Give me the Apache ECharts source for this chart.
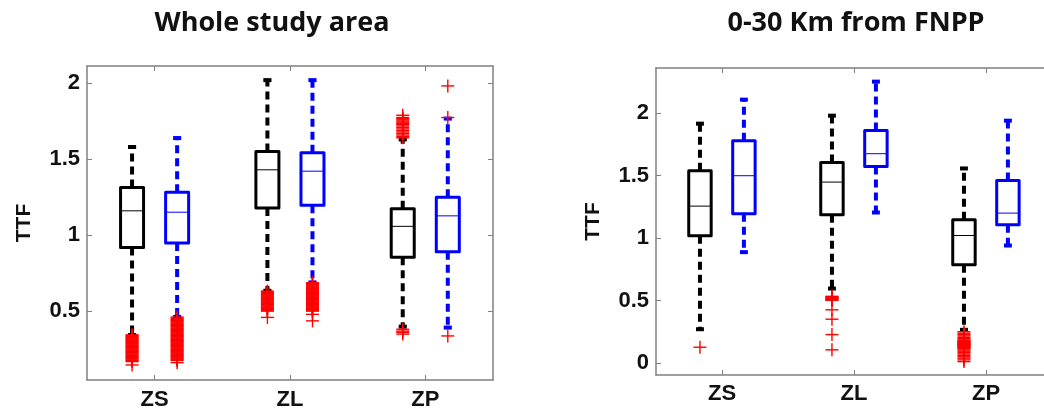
<!DOCTYPE html>
<html>
<head>
<meta charset="utf-8">
<script src="https://cdn.jsdelivr.net/npm/echarts@6/dist/echarts.min.js"></script>
<style>
  html, body { margin: 0; padding: 0; background: #fff; overflow: hidden; }
  #chart { width: 1044px; height: 410px; }
</style>
</head>
<body>
<div id="chart"></div>
<script>
// categories and tick labels
const categories = ['ZS', 'ZL', 'ZP']
const xTicks = [1, 2, 3]
const yTicksWhole = [0.5, 1, 1.5, 2]
const yTicksNear = [0, 0.5, 1, 1.5, 2]

// box stats per category: [lower whisker, Q1, median, Q3, upper whisker]
const wholeBlack = [
  [0.344, 0.919, 1.161, 1.315, 1.581],
  [0.635, 1.180, 1.431, 1.552, 2.021],
  [0.399, 0.855, 1.059, 1.174, 1.631]
]
const wholeBlue = [
  [0.463, 0.949, 1.152, 1.284, 1.640],
  [0.690, 1.198, 1.422, 1.543, 2.021],
  [0.393, 0.892, 1.128, 1.251, 1.768]
]
const nearBlack = [
  [0.272, 1.019, 1.256, 1.539, 1.915],
  [0.597, 1.187, 1.448, 1.605, 1.979],
  [0.267, 0.787, 1.021, 1.147, 1.557]
]
const nearBlue = [
  [0.888, 1.195, 1.499, 1.779, 2.107],
  [1.205, 1.573, 1.675, 1.861, 2.251],
  [0.941, 1.107, 1.200, 1.461, 1.939]
]

// outliers per category
const wholeBlackOut = [
  [0.345, 0.34, 0.334, 0.329, 0.323, 0.318, 0.312, 0.307, 0.301, 0.296, 0.29, 0.285, 0.279, 0.274, 0.268, 0.263,
   0.257, 0.252, 0.246, 0.241, 0.235, 0.23, 0.224, 0.219, 0.213, 0.208, 0.202, 0.197, 0.191, 0.186, 0.18, 0.175,
   0.169, 0.147],
  [0.633, 0.628, 0.622, 0.617, 0.611, 0.606, 0.6, 0.595, 0.589, 0.584, 0.578, 0.573, 0.567, 0.562, 0.556, 0.551,
   0.545, 0.54, 0.534, 0.529, 0.523, 0.518, 0.512, 0.507, 0.501, 0.46],
  [1.79, 1.775, 1.768, 1.76, 1.752, 1.745, 1.737, 1.73, 1.72, 1.71, 1.7, 1.69, 1.68, 1.67, 1.66, 1.65, 1.642,
   0.382, 0.37, 0.362, 0.35]
]
const wholeBlueOut = [
  [0.462, 0.456, 0.451, 0.445, 0.44, 0.434, 0.429, 0.423, 0.418, 0.412, 0.407, 0.401, 0.396, 0.39, 0.385, 0.379,
   0.374, 0.368, 0.363, 0.357, 0.352, 0.346, 0.341, 0.335, 0.33, 0.324, 0.319, 0.313, 0.308, 0.302, 0.297, 0.291,
   0.286, 0.28, 0.275, 0.269, 0.264, 0.258, 0.253, 0.247, 0.242, 0.236, 0.231, 0.225, 0.22, 0.214, 0.209, 0.203,
   0.198, 0.192, 0.187, 0.181, 0.176, 0.162],
  [0.688, 0.683, 0.677, 0.672, 0.666, 0.661, 0.655, 0.65, 0.644, 0.639, 0.633, 0.628, 0.622, 0.617, 0.611, 0.606,
   0.6, 0.595, 0.589, 0.584, 0.578, 0.573, 0.567, 0.562, 0.556, 0.551, 0.545, 0.54, 0.534, 0.529, 0.523, 0.518,
   0.512, 0.507, 0.501, 0.48, 0.437],
  [1.983, 1.775, 0.338]
]
const nearBlackOut = [
  [0.128],
  [0.535, 0.53, 0.526, 0.521, 0.517, 0.512, 0.508, 0.503, 0.427, 0.352, 0.229, 0.107],
  [0.252, 0.24, 0.229, 0.218, 0.206, 0.196, 0.186, 0.181, 0.176, 0.172, 0.167, 0.163, 0.158,
   0.154, 0.15, 0.146, 0.142, 0.138, 0.133, 0.129, 0.124, 0.12, 0.114, 0.106, 0.096, 0.085, 0.074,
   0.063, 0.052, 0.04, 0.027, 0.013]
]
const nearBlueOut = [[], [], []]

// 样式常量
const BLACK = '#000000'
const BLUE = '#0000ff'
const RED = '#ff0000'
const AXIS = '#808080'
const BLACK_OFFSET = -0.167
const BLUE_OFFSET = 0.166
const BOX_HALF = 0.085
const CAP_HALF = 0.03
const PLUS_HALF = 6.5

const chart = echarts.init(document.getElementById('chart'))

// 箱体 + 须线
const renderBox = (color) => (params, api) => {
  const x = api.value(0)
  const unit = api.size([1, 0])[0]
  const hw = unit * BOX_HALF
  const cw = unit * CAP_HALF
  const pMin = api.coord([x, api.value(1)])
  const pQ1 = api.coord([x, api.value(2)])
  const pMed = api.coord([x, api.value(3)])
  const pQ3 = api.coord([x, api.value(4)])
  const pMax = api.coord([x, api.value(5)])
  const cx = pQ1[0]
  const dash = { stroke: color, lineWidth: 4, lineDash: [8, 5] }
  const cap = { stroke: color, lineWidth: 4 }
  return {
    type: 'group',
    children: [
      { type: 'line', shape: { x1: cx, y1: pQ3[1], x2: cx, y2: pMax[1] }, style: dash },
      { type: 'line', shape: { x1: cx, y1: pQ1[1], x2: cx, y2: pMin[1] }, style: dash },
      { type: 'line', shape: { x1: cx - cw, y1: pMax[1], x2: cx + cw, y2: pMax[1] }, style: cap },
      { type: 'line', shape: { x1: cx - cw, y1: pMin[1], x2: cx + cw, y2: pMin[1] }, style: cap },
      {
        type: 'rect',
        shape: { x: cx - hw, y: pQ3[1], width: hw * 2, height: pQ1[1] - pQ3[1] },
        style: { fill: '#fff', stroke: color, lineWidth: 3, lineJoin: 'round' }
      },
      { type: 'line', shape: { x1: cx - hw, y1: pMed[1], x2: cx + hw, y2: pMed[1] }, style: { stroke: color, lineWidth: 1 } }
    ]
  }
}

// 离群点 '+'
const renderPlus = (params, api) => {
  const p = api.coord([api.value(0), api.value(1)])
  const st = { stroke: RED, lineWidth: 1.4 }
  return {
    type: 'group',
    children: [
      { type: 'line', shape: { x1: p[0] - PLUS_HALF, y1: p[1], x2: p[0] + PLUS_HALF, y2: p[1] }, style: st },
      { type: 'line', shape: { x1: p[0], y1: p[1] - PLUS_HALF, x2: p[0], y2: p[1] + PLUS_HALF }, style: st }
    ]
  }
}

const boxData = (stats, offset) => stats.map((s, i) => [i + 1 + offset, ...s])
const outData = (outs, offset) => {
  const res = []
  outs.forEach((list, i) => list.forEach((v) => res.push([i + 1 + offset, v])))
  return res
}

const labelFont = { color: '#111', fontSize: 22, fontWeight: 'bold', fontFamily: 'Liberation Sans' }
// onZero 关掉，否则右图的 x 轴会跑到 y=0 处
const axisLine = { show: true, onZero: false, lineStyle: { color: AXIS, width: 1.5 } }
const tick = (vals) => ({ show: true, inside: true, length: 5, customValues: vals, lineStyle: { color: AXIS, width: 1 } })

const makeXAxes = (gridIndex, xMargin) => [
  {
    gridIndex, type: 'value', position: 'bottom', min: 0.5, max: 3.5,
    axisLine, axisTick: tick(xTicks), splitLine: { show: false },
    axisLabel: { ...labelFont, margin: xMargin, customValues: xTicks, formatter: (v) => categories[Math.round(v) - 1] }
  },
  {
    gridIndex, type: 'value', position: 'top', min: 0.5, max: 3.5,
    axisLine, axisTick: tick(xTicks), splitLine: { show: false }, axisLabel: { show: false }
  }
]

const makeYAxis = (gridIndex, yMin, yMax, yTicks) => ({
  gridIndex, type: 'value', position: 'left', min: yMin, max: yMax,
  axisLine, axisTick: tick(yTicks), splitLine: { show: false },
  axisLabel: { ...labelFont, margin: 7, customValues: yTicks, formatter: (v) => String(v) },
  name: 'TTF', nameLocation: 'middle', nameGap: 52,
  nameTextStyle: { color: '#111', fontSize: 21, fontWeight: 'bold', fontFamily: 'Liberation Sans' }
})

// 左图右侧边框（右图的右边框在画面外，不画）
const wholeRightAxis = {
  gridIndex: 0, type: 'value', position: 'right', min: 0.048, max: 2.114,
  axisLine, axisTick: tick(yTicksWhole), splitLine: { show: false }, axisLabel: { show: false }
}

const panelSeries = (xi, yi, black, blue, blackOut, blueOut) => [
  { type: 'custom', xAxisIndex: xi, yAxisIndex: yi, renderItem: renderBox(BLACK), data: boxData(black, BLACK_OFFSET), encode: { x: 0, y: [1, 2, 3, 4, 5] }, silent: true, clip: false },
  { type: 'custom', xAxisIndex: xi, yAxisIndex: yi, renderItem: renderBox(BLUE), data: boxData(blue, BLUE_OFFSET), encode: { x: 0, y: [1, 2, 3, 4, 5] }, silent: true, clip: false },
  { type: 'custom', xAxisIndex: xi, yAxisIndex: yi, renderItem: renderPlus, data: outData(blackOut, BLACK_OFFSET), encode: { x: 0, y: 1 }, silent: true, clip: false },
  { type: 'custom', xAxisIndex: xi, yAxisIndex: yi, renderItem: renderPlus, data: outData(blueOut, BLUE_OFFSET), encode: { x: 0, y: 1 }, silent: true, clip: false }
]

const titleStyle = { fill: '#111', fontSize: 27, fontWeight: 'bold', fontFamily: 'Open Sans', align: 'center', verticalAlign: 'middle' }

const option = {
  animation: false,
  backgroundColor: '#fff',
  graphic: [
    { type: 'text', x: 272, y: 23, style: { ...titleStyle, text: 'Whole study area' } },
    { type: 'text', x: 856, y: 23, style: { ...titleStyle, text: '0-30 Km from FNPP' } },
    // 右图在画面边缘被裁掉，盖住边缘残线
    { type: 'rect', z: 100, shape: { x: 1036, y: 70, width: 10, height: 304 }, style: { fill: '#fff' } }
  ],
  grid: [
    { left: 87, top: 66, width: 406, height: 314, outerBoundsMode: 'none' },
    { left: 656, top: 68, width: 396, height: 307, outerBoundsMode: 'none' }
  ],
  xAxis: [...makeXAxes(0, 9), ...makeXAxes(1, 8)],
  yAxis: [makeYAxis(0, 0.048, 2.114, yTicksWhole), wholeRightAxis, makeYAxis(1, -0.094, 2.36, yTicksNear)],
  series: [
    ...panelSeries(0, 0, wholeBlack, wholeBlue, wholeBlackOut, wholeBlueOut),
    ...panelSeries(2, 2, nearBlack, nearBlue, nearBlackOut, nearBlueOut)
  ]
}

chart && chart.setOption(option)
</script>
</body>
</html>
